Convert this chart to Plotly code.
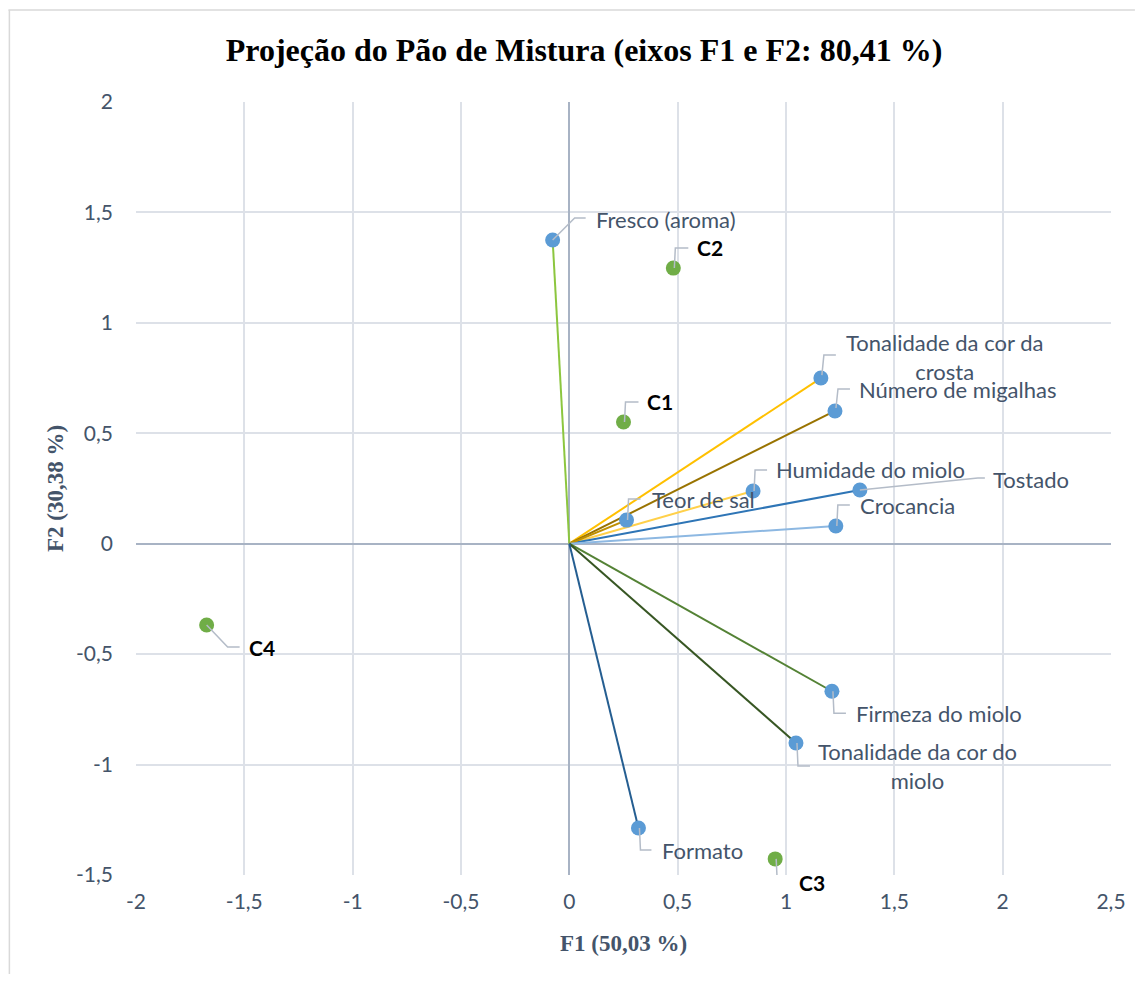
import plotly.graph_objects as go

# ---- data ----
var_names = ["Fresco (aroma)", "Tonalidade da cor da<br>crosta", "Número de migalhas",
             "Humidade do miolo", "Tostado", "Teor de sal", "Crocancia",
             "Firmeza do miolo", "Tonalidade da cor do<br>miolo", "Formato"]
var_f1 = [-0.077, 1.161, 1.226, 0.848, 1.341, 0.264, 1.230, 1.212, 1.046, 0.319]
var_f2 = [1.375, 0.750, 0.601, 0.239, 0.243, 0.107, 0.080, -0.668, -0.902, -1.287]

obs_names = ["C1", "C2", "C3", "C4"]
obs_f1 = [0.250, 0.480, 0.950, -1.674]
obs_f2 = [0.551, 1.248, -1.427, -0.368]

x_ticks = [-2, -1.5, -1, -0.5, 0, 0.5, 1, 1.5, 2, 2.5]
x_tick_text = ["-2", "-1,5", "-1", "-0,5", "0", "0,5", "1", "1,5", "2", "2,5"]
y_ticks = [-1.5, -1, -0.5, 0, 0.5, 1, 1.5, 2]
y_tick_text = ["-1,5", "-1", "-0,5", "0", "0,5", "1", "1,5", "2"]

# ---- styles ----
var_line_colors = ["#8cc63f", "#ffc000", "#997300", "#ffd04a", "#2e75b6", "#bf9000",
                   "#8db8e2", "#548235", "#375623", "#255e91"]
# label placement (pixels): text offset and leader path relative to the point (y up)
var_label_off = [(41, 21), (23, 21), (22, 21), (21, 21), (131, 11), (23, 21), (22, 21),
                 (22, -22), (20, -23), (22, -23)]
var_leader = ["M0,0 L22,22 L33,22", "M1,3 L3,23 L15,23", "M1,3 L3,22 L15,22",
              "M1,0 L2,21 L14,21", "M0,0 L118,12 L125,12", "M1,0 L2,21 L14,21",
              "M1,0 L2,21 L14,21", "M1,0 L2,-22 L14,-22", "M1,0 L2,-23 L14,-23",
              "M1,0 L2,-22 L13,-22"]
obs_label_off = [(21, 21), (22, 21), (22, -24), (40, -23)]
obs_leader = ["M1,0 L2,20 L15,20", "M1,0 L2,20 L15,20", "M1,0 L2,-21 L13,-21",
              "M0,0 L21,-22 L33,-22"]

LABEL_FONT = dict(family="Lato, Noto Sans, sans-serif", size=22, color="#44546a")
LEADER_COLOR = "#b4bcc8"

W, H = 1130, 966
ML, MR, MT, MB = 128, 24, 94, 99
PW, PH = W - ML - MR, H - MT - MB

fig = go.Figure()

for name, x, y, c in zip(var_names, var_f1, var_f2, var_line_colors):
    fig.add_trace(go.Scatter(x=[0, x], y=[0, y], mode="lines",
                             line=dict(color=c, width=2), hoverinfo="skip",
                             showlegend=False))

fig.add_trace(go.Scatter(x=var_f1, y=var_f2, mode="markers", text=var_names,
                         marker=dict(size=15, color="#5b9bd5"), showlegend=False))
fig.add_trace(go.Scatter(x=obs_f1, y=obs_f2, mode="markers", text=obs_names,
                         marker=dict(size=15, color="#70ad47"), showlegend=False))

shapes = []
annotations = []
for name, x, y, (dx, dy), path in zip(var_names, var_f1, var_f2, var_label_off, var_leader):
    shapes.append(dict(type="path", xref="x", yref="y", xsizemode="pixel", ysizemode="pixel",
                       xanchor=x, yanchor=y, path=path,
                       line=dict(color=LEADER_COLOR, width=1.5), layer="above"))
    annotations.append(dict(x=x, y=y, xref="x", yref="y", text=name, showarrow=False,
                            xanchor="left", yanchor="middle", xshift=dx, yshift=dy,
                            align="center", font=LABEL_FONT))
for name, x, y, (dx, dy), path in zip(obs_names, obs_f1, obs_f2, obs_label_off, obs_leader):
    shapes.append(dict(type="path", xref="x", yref="y", xsizemode="pixel", ysizemode="pixel",
                       xanchor=x, yanchor=y, path=path,
                       line=dict(color=LEADER_COLOR, width=1.5), layer="above"))
    annotations.append(dict(x=x, y=y, xref="x", yref="y", text="<b>" + name + "</b>",
                            showarrow=False, xanchor="left", yanchor="middle",
                            xshift=dx, yshift=dy,
                            font=dict(family="Lato, Noto Sans, sans-serif", size=21,
                                      color="#000000")))

# chart-area border (left and top)
bx = -ML / PW
by = 1 + (MT - 2) / PH
shapes.append(dict(type="line", xref="paper", yref="paper", x0=bx, x1=1 + MR / PW,
                   y0=by, y1=by, line=dict(color="#d9d9d9", width=1.5)))
shapes.append(dict(type="line", xref="paper", yref="paper", x0=bx + 1 / PW, x1=bx + 1 / PW,
                   y0=-MB / PH, y1=by, line=dict(color="#d9d9d9", width=1.5)))

axis_common = dict(showgrid=True, gridcolor="#dde1e8", gridwidth=1.5,
                   zeroline=True, zerolinecolor="#a8b3c4", zerolinewidth=2,
                   showline=False, ticks="",
                   tickfont=dict(family="Lato, Noto Sans, sans-serif", size=21, color="#44546a"))

fig.update_layout(
    width=W, height=H,
    paper_bgcolor="white", plot_bgcolor="white",
    margin=dict(l=ML, r=MR, t=MT, b=MB),
    title=dict(text="<b>Projeção do Pão de Mistura (eixos F1 e F2: 80,41 %)</b>",
               x=(584 - 8) / W, xanchor="center", y=1 - (50 - 8) / H, yanchor="middle",
               font=dict(family="Liberation Serif, Times New Roman, serif", size=32,
                         color="#000000")),
    xaxis=dict(range=[-2, 2.5], tickvals=x_ticks, ticktext=x_tick_text,
               ticklabelstandoff=12,
               title=dict(text="<b>F1 (50,03 %)</b>", standoff=22,
                          font=dict(family="Liberation Serif, Times New Roman, serif",
                                    size=23, color="#44546a")),
               **axis_common),
    yaxis=dict(range=[-1.5, 2], tickvals=y_ticks, ticktext=y_tick_text,
               ticklabelstandoff=22,
               title=dict(text="<b>F2 (30,38 %)</b>", standoff=6,
                          font=dict(family="Liberation Serif, Times New Roman, serif",
                                    size=23, color="#44546a")),
               **axis_common),
    shapes=shapes,
    annotations=annotations,
    showlegend=False,
)

fig.write_html("out.html")
